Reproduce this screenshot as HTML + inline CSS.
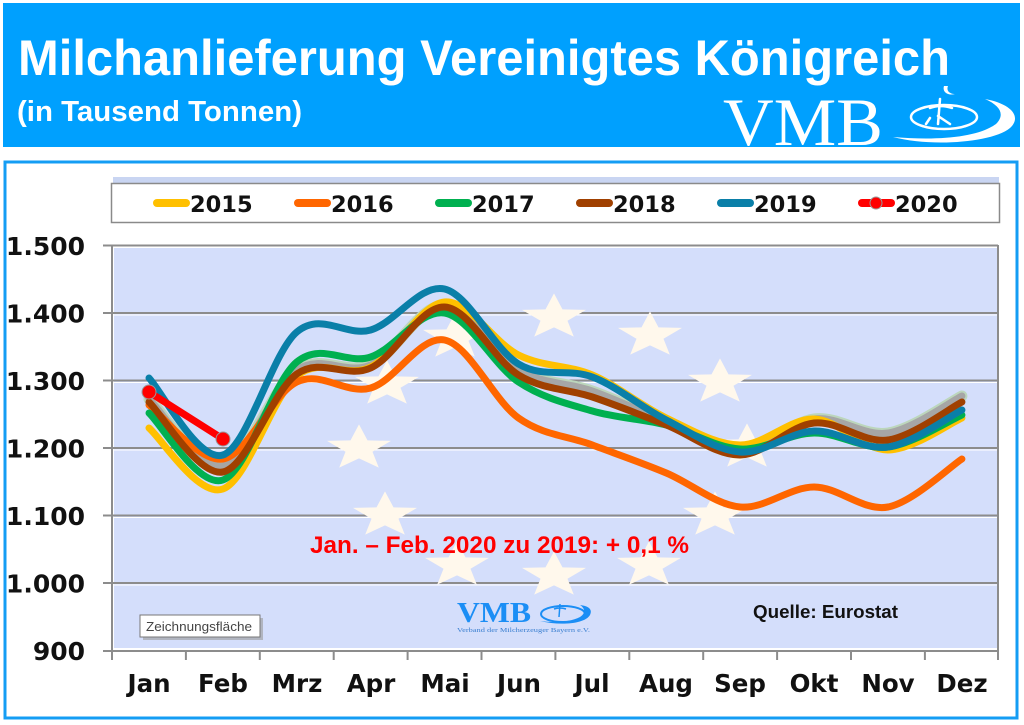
<!DOCTYPE html>
<html><head><meta charset="utf-8"><style>html,body{margin:0;padding:0;background:#fff;}svg{display:block;}</style></head>
<body>
<svg width="1024" height="725" viewBox="0 0 1024 725" xmlns="http://www.w3.org/2000/svg">
<defs>
<polygon id="st" points="0,-21.6 8.5,-5.6 32,-5.1 13.5,5.8 19.8,21.6 0,12.4 -19.8,21.6 -13.5,5.8 -32,-5.1 -8.5,-5.6"/>
</defs>
<rect width="1024" height="725" fill="#fff"/>
<!-- header -->
<rect x="3" y="3" width="1017" height="144" fill="#00A0FE"/>
<text x="18" y="75" font-family="'Liberation Sans', sans-serif" font-weight="bold" font-size="50" fill="#fff" textLength="932" lengthAdjust="spacingAndGlyphs">Milchanlieferung Vereinigtes Königreich</text>
<text x="17" y="121" font-family="'Liberation Sans', sans-serif" font-weight="bold" font-size="29" fill="#fff" textLength="285" lengthAdjust="spacingAndGlyphs">(in Tausend Tonnen)</text>
<text x="723" y="145" font-family="'Liberation Serif', serif" font-size="68" fill="#fff" textLength="160" lengthAdjust="spacingAndGlyphs">VMB</text>
<g fill="#fff" stroke="none">
<path d="M893,137 C930,147 992,143 1010,128 C1022,117 1012,104 985,99 C1001,106 1005,115 996,124 C978,137 940,141 893,137 Z"/>
<path d="M944,86 C942,92 948,96 955,94 C950,94 946,91 948,86 Z"/>
</g>
<g fill="none" stroke="#fff" stroke-width="2.5" stroke-linecap="round">
<ellipse cx="944" cy="117" rx="33" ry="12"/>
<path d="M940,99 L938,124 M930,108 Q940,104 952,108 M938,116 Q944,120 950,124 M930,118 L926,124"/>
</g>

<!-- chart panel -->
<rect x="5" y="162" width="1012" height="556" fill="#fff" stroke="#149DF4" stroke-width="3"/>

<!-- legend -->
<rect x="113" y="177" width="886" height="7" fill="#C9D5F2"/>
<rect x="111.5" y="183.5" width="888" height="39" fill="#fff" stroke="#8a8a8a" stroke-width="1.5"/>
<g stroke-width="8" stroke-linecap="round" fill="none">
<line x1="157" y1="203" x2="186" y2="203" stroke="#FFC000"/>
<line x1="298" y1="203" x2="327" y2="203" stroke="#FF6600"/>
<line x1="439" y1="203" x2="468" y2="203" stroke="#00B050"/>
<line x1="580" y1="203" x2="609" y2="203" stroke="#A04000"/>
<line x1="721" y1="203" x2="750" y2="203" stroke="#0A7FA8"/>
<line x1="862" y1="203" x2="891" y2="203" stroke="#FF0000"/>
</g>
<circle cx="876" cy="203" r="6" fill="#FF0000" stroke="#999" stroke-width="1"/>
<g font-family="'DejaVu Sans', sans-serif" font-weight="bold" font-size="22.5" fill="#111">
<text x="190" y="212">2015</text>
<text x="331" y="212">2016</text>
<text x="472" y="212">2017</text>
<text x="613" y="212">2018</text>
<text x="754" y="212">2019</text>
<text x="895" y="212">2020</text>
</g>

<!-- plot area -->
<rect x="114" y="248" width="883" height="400" fill="#D4DEFB"/>
<g stroke="#8C8C8C" stroke-width="2">
<line x1="103" y1="245.5" x2="998" y2="245.5"/>
<line x1="103" y1="313" x2="998" y2="313"/>
<line x1="103" y1="380.5" x2="998" y2="380.5"/>
<line x1="103" y1="448" x2="998" y2="448"/>
<line x1="103" y1="515.5" x2="998" y2="515.5"/>
<line x1="103" y1="583" x2="998" y2="583"/>
<line x1="103" y1="651" x2="998" y2="651"/>
</g>
<g stroke="#fff" stroke-width="1">
<line x1="114" y1="315" x2="997" y2="315"/>
<line x1="114" y1="382.5" x2="997" y2="382.5"/>
<line x1="114" y1="450" x2="997" y2="450"/>
<line x1="114" y1="517.5" x2="997" y2="517.5"/>
<line x1="114" y1="585" x2="997" y2="585"/>
</g>
<g stroke="#8C8C8C" stroke-width="2">
<line x1="112" y1="245" x2="112" y2="660"/>
<line x1="998" y1="245" x2="998" y2="660"/>
<line x1="185.9" y1="651" x2="185.9" y2="660"/>
<line x1="259.8" y1="651" x2="259.8" y2="660"/>
<line x1="333.7" y1="651" x2="333.7" y2="660"/>
<line x1="407.6" y1="651" x2="407.6" y2="660"/>
<line x1="481.5" y1="651" x2="481.5" y2="660"/>
<line x1="555.4" y1="651" x2="555.4" y2="660"/>
<line x1="629.3" y1="651" x2="629.3" y2="660"/>
<line x1="703.2" y1="651" x2="703.2" y2="660"/>
<line x1="777.1" y1="651" x2="777.1" y2="660"/>
<line x1="851" y1="651" x2="851" y2="660"/>
<line x1="924.9" y1="651" x2="924.9" y2="660"/>
</g>

<!-- EU stars -->
<g fill="#FFF8EC">
<use href="#st" x="554" y="315"/>
<use href="#st" x="650" y="333"/>
<use href="#st" x="720" y="380"/>
<use href="#st" x="747" y="445"/>
<use href="#st" x="715" y="513"/>
<use href="#st" x="649" y="563"/>
<use href="#st" x="554" y="573"/>
<use href="#st" x="457" y="563"/>
<use href="#st" x="385" y="513"/>
<use href="#st" x="359" y="446"/>
<use href="#st" x="387" y="382"/>
<use href="#st" x="455" y="335"/>
</g>

<!-- small VMB logo in plot -->
<text x="457" y="622" font-family="'Liberation Serif', serif" font-weight="bold" font-size="28" fill="#1B8EF5" textLength="74" lengthAdjust="spacingAndGlyphs">VMB</text>
<g fill="none" stroke="#1B8EF5" stroke-width="2">
<ellipse cx="563" cy="614" rx="22" ry="8"/>
</g>
<path d="M540,621 C560,626 585,624 590,615 C593,609 588,606 580,605 C586,609 585,614 580,617 C570,622 555,623 540,621 Z" fill="#1B8EF5"/>
<path d="M560,604 L559,617 M554,609 Q560,607 566,609" stroke="#1B8EF5" stroke-width="1.5" fill="none"/>
<text x="457" y="632" font-family="'Liberation Serif', serif" font-size="6.5" fill="#3A7FD0" textLength="133" lengthAdjust="spacingAndGlyphs">Verband der Milcherzeuger Bayern e.V.</text>

<!-- series -->
<g fill="none" stroke-linecap="round" stroke-linejoin="round">
<path stroke="#BCD6BC" stroke-width="11" d="M149,399 C161.3,410.2 198.3,470.8 222.9,466 S272.2,386.8 296.8,370 S346.1,375.8 370.7,365 S420,304.2 444.6,305 S493.9,355.7 518.5,370 S567.8,382.3 592.4,391 S641.7,411.7 666.3,422 S715.6,453.5 740.2,453 S789.5,422.3 814.1,419 S863.4,436.8 888,433 S949.6,402.2 961.9,396"/>
<path stroke="#A6A6A6" stroke-width="7" d="M149,399 C161.3,410.2 198.3,470.8 222.9,466 S272.2,386.8 296.8,370 S346.1,375.8 370.7,365 S420,304.2 444.6,305 S493.9,355.7 518.5,370 S567.8,382.3 592.4,391 S641.7,411.7 666.3,422 S715.6,453.5 740.2,453 S789.5,422.3 814.1,419 S863.4,436.8 888,433 S949.6,402.2 961.9,396"/>
<path stroke="#FFC000" stroke-width="7" d="M149,428 C161.3,438.2 198.3,497.7 222.9,489 S272.2,396.3 296.8,376 S346.1,379.3 370.7,367 S420,304 444.6,302 S493.9,342.8 518.5,355 S567.8,364.5 592.4,375 S641.7,406.3 666.3,418 S715.6,444.8 740.2,445 S789.5,418.2 814.1,419 S863.4,450.2 888,450 S949.6,423.3 961.9,418"/>
<path stroke="#FF6600" stroke-width="7" d="M149,405 C161.3,414 198.3,462.8 222.9,459 S272.2,393.8 296.8,382 S346.1,395 370.7,388 S420,335 444.6,340 S493.9,400.5 518.5,418 S567.8,435.8 592.4,445 S641.7,462.7 666.3,473 S715.6,504.7 740.2,507 S789.5,487 814.1,487 S863.4,511.7 888,507 S949.6,467 961.9,459"/>
<path stroke="#00B050" stroke-width="7" d="M149,413 C161.3,424.2 198.3,488.5 222.9,480 S272.2,382.5 296.8,362 S346.1,365.2 370.7,357 S420,308.8 444.6,313 S493.9,365.7 518.5,382 S567.8,403.8 592.4,411 S641.7,418.7 666.3,425 S715.6,447.7 740.2,449 S789.5,433.3 814.1,433 S863.4,450 888,447 S949.6,420.3 961.9,415"/>
<path stroke="#A04000" stroke-width="7" d="M149,402 C161.3,413.7 198.3,476.7 222.9,472 S272.2,391.3 296.8,374 S346.1,379.2 370.7,368 S420,305.8 444.6,307 S493.9,360 518.5,375 S567.8,388.7 592.4,397 S641.7,415.3 666.3,425 S715.6,455.3 740.2,455 S789.5,425.5 814.1,423 S863.4,443.5 888,440 S949.6,408.3 961.9,402"/>
<path stroke="#0A7FA8" stroke-width="7" d="M149,378 C161.3,390.8 198.3,462.7 222.9,455 S272.2,352.8 296.8,332 S346.1,337.2 370.7,330 S420,283.3 444.6,289 S493.9,349.3 518.5,364 S567.8,367.7 592.4,377 S641.7,407.5 666.3,420 S715.6,450.2 740.2,452 S789.5,431.8 814.1,431 S863.4,450.5 888,447 S949.6,416.2 961.9,410"/>
<line x1="149" y1="392" x2="223" y2="439" stroke="#FF0000" stroke-width="7"/>
</g>
<circle cx="149" cy="392" r="7" fill="#FF0000" stroke="#999" stroke-width="1"/>
<circle cx="223" cy="439" r="7" fill="#FF0000" stroke="#999" stroke-width="1"/>

<!-- annotations -->
<text x="310" y="553" font-family="'Liberation Sans', sans-serif" font-weight="bold" font-size="24" fill="#FF0000" textLength="379" lengthAdjust="spacingAndGlyphs">Jan. – Feb. 2020 zu 2019: + 0,1 %</text>
<text x="753" y="618" font-family="'Liberation Sans', sans-serif" font-weight="bold" font-size="18" fill="#111" textLength="145" lengthAdjust="spacingAndGlyphs">Quelle: Eurostat</text>

<rect x="143" y="618" width="120" height="22" fill="#9a9a9a" opacity="0.6"/>
<rect x="140" y="615" width="120" height="22" fill="#fff" stroke="#777" stroke-width="1"/>
<text x="146" y="631" font-family="'Liberation Sans', sans-serif" font-size="13" fill="#444" textLength="106" lengthAdjust="spacingAndGlyphs">Zeichnungsfläche</text>

<!-- y labels -->
<g font-family="'DejaVu Sans', sans-serif" font-weight="bold" font-size="25" fill="#111" text-anchor="end">
<text x="85" y="255">1.500</text>
<text x="85" y="322.5">1.400</text>
<text x="85" y="390">1.300</text>
<text x="85" y="457.5">1.200</text>
<text x="85" y="525">1.100</text>
<text x="85" y="592.5">1.000</text>
<text x="85" y="660">900</text>
</g>
<!-- x labels -->
<g font-family="'DejaVu Sans', sans-serif" font-weight="bold" font-size="24.5" fill="#111" text-anchor="middle">
<text x="149" y="692">Jan</text>
<text x="223" y="692">Feb</text>
<text x="297" y="692">Mrz</text>
<text x="371" y="692">Apr</text>
<text x="445" y="692">Mai</text>
<text x="519" y="692">Jun</text>
<text x="592" y="692">Jul</text>
<text x="666" y="692">Aug</text>
<text x="740" y="692">Sep</text>
<text x="814" y="692">Okt</text>
<text x="888" y="692">Nov</text>
<text x="962" y="692">Dez</text>
</g>
</svg>
</body></html>
